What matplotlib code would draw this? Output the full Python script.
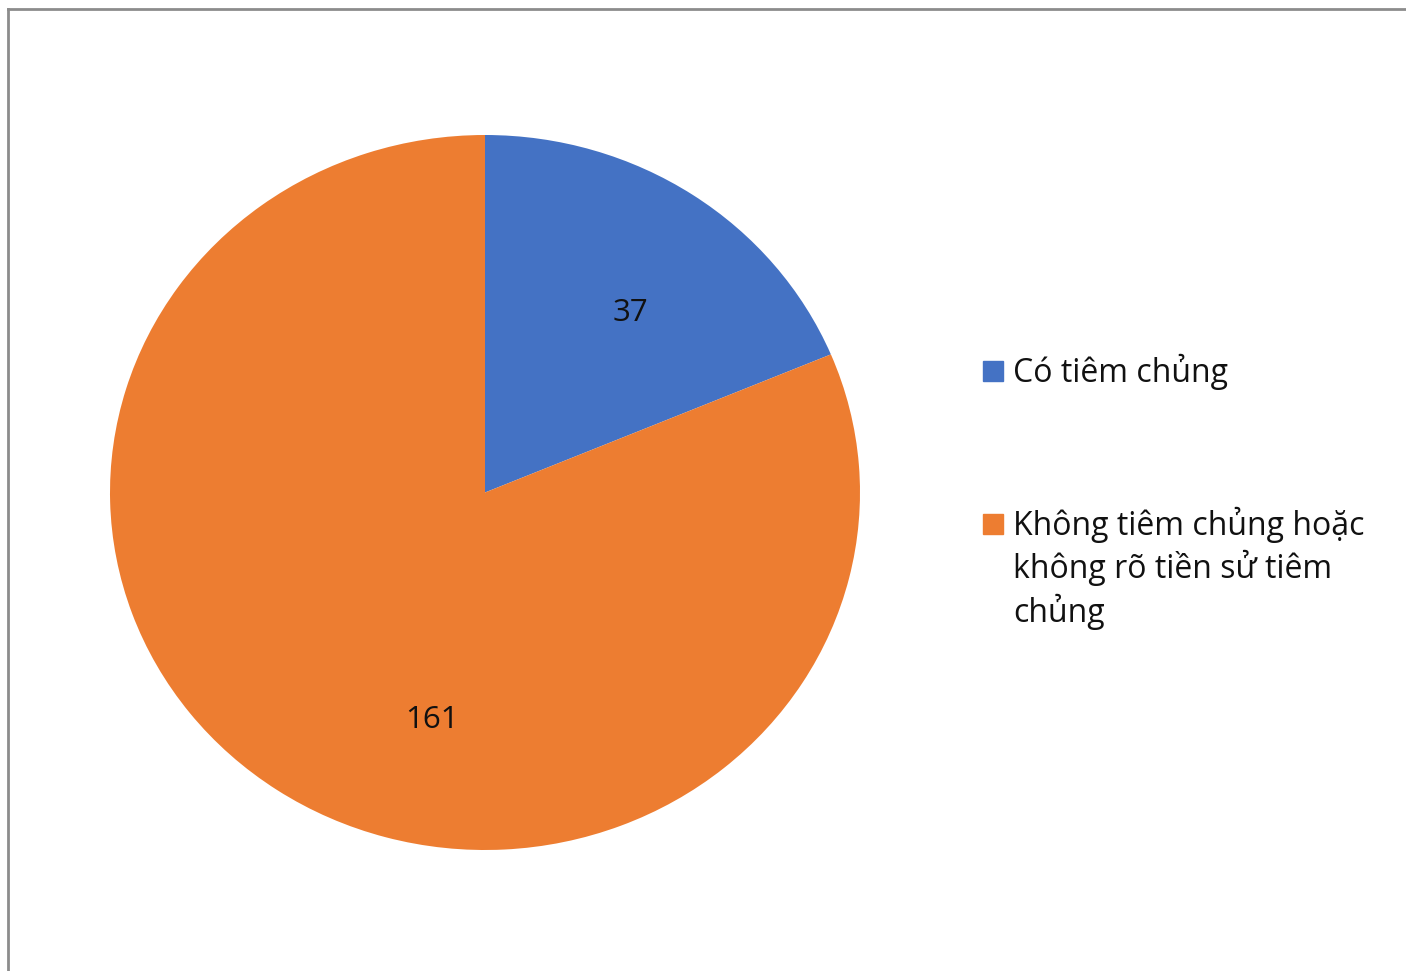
import matplotlib
matplotlib.use("Agg")
import matplotlib.pyplot as plt
from matplotlib.patches import Rectangle

# -------- Data
categories = ["Có tiêm chủng",
              "Không tiêm chủng hoặc\nkhông rõ tiền sử tiêm\nchủng"]
values = [37, 161]
colors = ["#4472C4", "#ED7D31"]

W, H = 1406, 971
plt.rcParams["font.family"] = ["Open Sans", "DejaVu Sans"]

fig = plt.figure(figsize=(W / 100, H / 100), dpi=100)

# chart-area border (top and left edges visible)
fig.add_artist(plt.Line2D([8 / W, 1], [1 - 9 / H, 1 - 9 / H], color="#8c8c8c", lw=2))
fig.add_artist(plt.Line2D([8 / W, 8 / W], [0, 1 - 9 / H], color="#8c8c8c", lw=2))

# pie area (slightly stretched horizontally, as in the reference)
ax = fig.add_axes([110 / W, 1 - 850 / H, 750 / W, 715 / H])
wedges, texts = ax.pie(values, colors=colors, startangle=90, counterclock=False,
                       radius=1.0, wedgeprops=dict(linewidth=0))
ax.set_aspect("auto")
ax.set_xlim(-1, 1)
ax.set_ylim(-1, 1)
ax.axis("off")

# value labels
label_pos = [(0.389, 0.503), (-0.141, -0.636)]
for v, (x, y) in zip(values, label_pos):
    ax.text(x, y, str(v), ha="center", va="center", fontsize=22.5, color="#111111")

# legend: square + one text per line, baselines 43.5 px apart
legend_base = [382, 535]
line_step = 43.5
for name, c, yb in zip(categories, colors, legend_base):
    fig.add_artist(Rectangle((983 / W, 1 - (yb - 1) / H), 20 / W, 20 / H,
                             transform=fig.transFigure, color=c))
    for i, line in enumerate(name.split("\n")):
        fig.text(1013 / W, 1 - (yb + i * line_step) / H, line, ha="left",
                 va="baseline", fontsize=23, color="#111111")

fig.savefig("out.png", dpi=100, facecolor="white")
